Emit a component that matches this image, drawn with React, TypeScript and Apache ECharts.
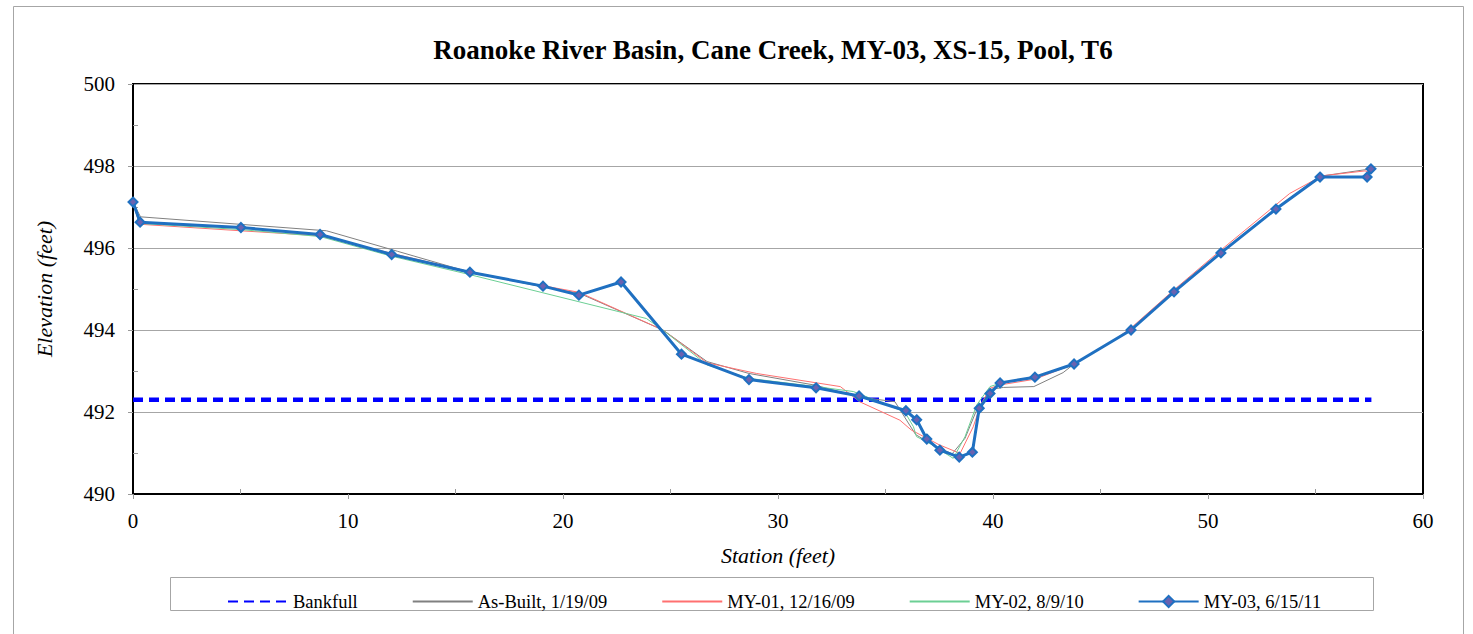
import React, { useEffect, useRef } from "react";
import * as echarts from "echarts";

const titleText = "Roanoke River Basin, Cane Creek, MY-03, XS-15, Pool, T6";
const seriesNames = ["Bankfull", "As-Built, 1/19/09", "MY-01, 12/16/09", "MY-02, 8/9/10", "MY-03, 6/15/11"];

const bankfullStation = [0, 57.6];
const bankfullElev = [492.3, 492.3];

const asBuiltStation = [0, 0.35, 9.0, 12.3, 15.67, 19.07, 20.74, 24.65, 26.7, 28.65, 31.77, 33.72, 35.44, 36.4, 37.2, 38.1, 38.7, 39.2, 39.86, 40.5, 41.9, 43.26, 43.77, 46.42, 48.42, 50.6, 53.16, 55.21, 57.58];
const asBuiltElev = [497.12, 496.76, 496.42, 495.92, 495.41, 495.05, 494.9, 494.0, 493.23, 492.94, 492.65, 492.37, 492.25, 491.45, 491.2, 490.98, 491.36, 492.0, 492.55, 492.6, 492.62, 492.96, 493.17, 494.0, 494.93, 495.9, 496.97, 497.75, 497.93];

const my01Station = [0, 0.3, 5.0, 8.7, 12.03, 15.67, 19.07, 20.74, 24.65, 26.7, 29.0, 32.9, 33.8, 35.67, 36.2, 37.5, 38.47, 39.08, 39.4, 39.86, 40.33, 41.95, 43.77, 45.44, 46.42, 48.42, 50.6, 53.8, 55.3, 57.3, 57.58];
const my01Elev = [497.1, 496.58, 496.42, 496.3, 495.87, 495.42, 495.08, 494.92, 494.0, 493.2, 492.94, 492.62, 492.25, 491.8, 491.56, 491.2, 490.99, 491.64, 492.13, 492.58, 492.66, 492.8, 493.17, 493.68, 494.05, 494.98, 495.95, 497.33, 497.76, 497.88, 497.85];

const my02Station = [0, 0.3, 5.0, 8.7, 12.03, 15.67, 23.88, 24.65, 26.7, 28.65, 31.77, 33.5, 35.9, 36.3, 36.44, 37.07, 38.15, 38.7, 39.24, 39.86, 40.33, 41.95, 43.77, 46.42, 48.42, 50.6, 53.16, 55.21, 57.4, 57.58];
const my02Elev = [497.1, 496.6, 496.45, 496.28, 495.8, 495.35, 494.28, 494.0, 493.15, 492.82, 492.62, 492.5, 492.0, 491.64, 491.4, 491.23, 490.87, 491.4, 492.17, 492.62, 492.7, 492.85, 493.17, 494.0, 494.93, 495.88, 496.95, 497.73, 497.73, 497.9];

const my03Station = [0, 0.33, 5.02, 8.7, 12.03, 15.67, 19.07, 20.74, 22.7, 25.51, 28.65, 31.77, 33.77, 35.95, 36.45, 36.92, 37.53, 38.43, 39.04, 39.36, 39.86, 40.33, 41.95, 43.77, 46.42, 48.42, 50.6, 53.16, 55.21, 57.4, 57.58];
const my03Elev = [497.12, 496.63, 496.5, 496.33, 495.84, 495.41, 495.07, 494.85, 495.17, 493.41, 492.79, 492.59, 492.39, 492.03, 491.81, 491.34, 491.07, 490.9, 491.02, 492.09, 492.45, 492.71, 492.85, 493.17, 494.0, 494.93, 495.88, 496.95, 497.73, 497.73, 497.93];

const zip = (xs: number[], ys: number[]) => xs.map((x, i) => [x, ys[i]]);

const FONT = "'Liberation Serif', 'Times New Roman', 'DejaVu Serif', serif";

export default function App() {
  const ref = useRef<HTMLDivElement>(null);
  useEffect(() => {
    if (!ref.current) return;
    const chart = echarts.init(ref.current, undefined, { renderer: "svg" });
    const thin = (name: string, color: string, xs: number[], ys: number[]) => ({
      name,
      type: "line",
      data: zip(xs, ys),
      symbol: "none",
      lineStyle: { color, width: 1 },
      itemStyle: { color },
      z: 3,
    });
    const noSym = { opacity: 0 };
    chart.setOption({
      animation: false,
      backgroundColor: "#fff",
      textStyle: { fontFamily: FONT },
      title: {
        text: titleText,
        left: 768,
        top: 31,
        textAlign: "center",
        textStyle: { fontFamily: FONT, fontSize: 27, fontWeight: "bold", color: "#000" },
      },
      graphic: [
        { type: "rect", shape: { x: 13.5, y: 6.5, width: 1450, height: 700 }, style: { fill: "none", stroke: "#A6A6A6", lineWidth: 1 }, silent: true },
        { type: "rect", shape: { x: 170.5, y: 577.5, width: 1203, height: 33 }, style: { fill: "none", stroke: "#A6A6A6", lineWidth: 1 }, silent: true },
      ],
      legend: {
        left: 222,
        top: 587,
        itemWidth: 60,
        itemHeight: 14,
        itemGap: 54,
        textStyle: { fontFamily: FONT, fontSize: 18.5, color: "#000" },
        data: [
          { name: seriesNames[0], itemStyle: noSym },
          { name: seriesNames[1], itemStyle: noSym },
          { name: seriesNames[2], itemStyle: noSym },
          { name: seriesNames[3], itemStyle: noSym },
          { name: seriesNames[4] },
        ],
      },
      grid: { left: 133, right: 50, top: 84, bottom: 140, show: true, borderColor: "#000", borderWidth: 2, backgroundColor: "transparent" },
      xAxis: [
        {
          type: "value",
          min: 0,
          max: 60,
          interval: 10,
          name: "Station (feet)",
          nameLocation: "middle",
          nameGap: 50,
          nameTextStyle: { fontFamily: FONT, fontSize: 22, fontStyle: "italic", color: "#000" },
          axisLine: { show: true, lineStyle: { color: "#000", width: 2 } },
          axisTick: { show: true, length: 5, lineStyle: { color: "#999" } },
          axisLabel: { fontFamily: FONT, fontSize: 21, color: "#000", margin: 16 },
          splitLine: { show: false },
        },
        {
          type: "value",
          min: 0,
          max: 60,
          interval: 10,
          position: "bottom",
          axisLine: { show: false },
          axisTick: { show: false, inside: true },
          minorTick: { show: true, splitNumber: 2, length: 5, lineStyle: { color: "#999" } },
          axisLabel: { show: false },
          splitLine: { show: false },
        },
      ],
      yAxis: [
        {
          type: "value",
          min: 490,
          max: 500,
          interval: 2,
          name: "Elevation (feet)",
          nameLocation: "middle",
          nameGap: 78,
          nameTextStyle: { fontFamily: FONT, fontSize: 22, fontStyle: "italic", color: "#000" },
          axisLine: { show: true, lineStyle: { color: "#000", width: 2 } },
          axisTick: { show: true, length: 5, lineStyle: { color: "#999" } },
          axisLabel: { fontFamily: FONT, fontSize: 21, color: "#000", margin: 18 },
          splitLine: { show: true, lineStyle: { color: "#A6A6A6", width: 1 } },
        },
        {
          type: "value",
          min: 490,
          max: 500,
          interval: 2,
          position: "left",
          axisLine: { show: false },
          axisTick: { show: false, inside: true },
          minorTick: { show: true, splitNumber: 2, length: 5, lineStyle: { color: "#999" } },
          axisLabel: { show: false },
          splitLine: { show: false },
        },
      ],
      series: [
        {
          name: seriesNames[0],
          type: "line",
          data: zip(bankfullStation, bankfullElev),
          symbol: "none",
          lineStyle: { color: "#0000FF", width: 4.5, type: [10, 6] },
          itemStyle: { color: "#0000FF" },
          z: 2,
        },
        thin(seriesNames[1], "#808080", asBuiltStation, asBuiltElev),
        thin(seriesNames[2], "#FF7070", my01Station, my01Elev),
        thin(seriesNames[3], "#6CCF94", my02Station, my02Elev),
        {
          name: seriesNames[4],
          type: "line",
          data: zip(my03Station, my03Elev),
          symbol: "diamond",
          symbolSize: 9,
          lineStyle: { color: "#1F70C1", width: 3 },
          itemStyle: { color: "#6A62B0", borderColor: "#1F70C1", borderWidth: 2 },
          z: 5,
        },
      ],
    });
    return () => chart.dispose();
  }, []);
  return <div ref={ref} style={{ position: "fixed", left: 0, top: 0, width: 1473, height: 634 }} />;
}
